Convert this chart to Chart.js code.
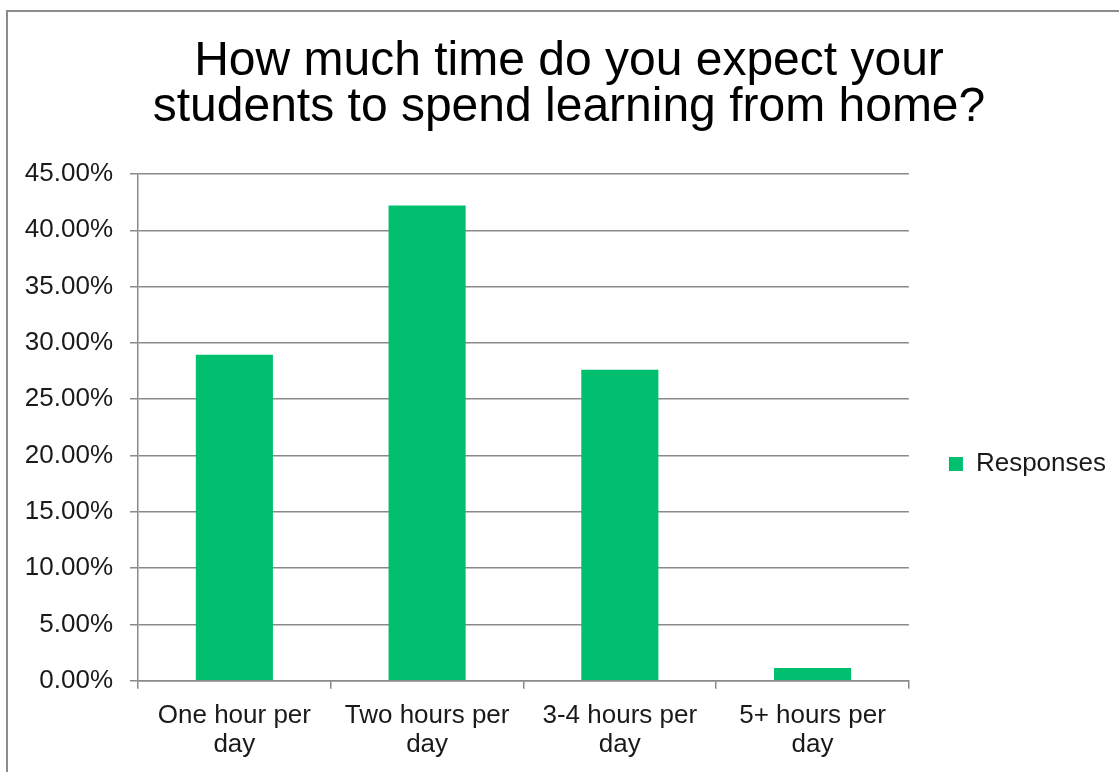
<!DOCTYPE html>
<html>
<head>
<meta charset="utf-8">
<title>How much time do you expect your students to spend learning from home?</title>
<script src="https://cdn.jsdelivr.net/npm/chart.js@4/dist/chart.umd.min.js"></script>
<style>
	html, body { margin: 0; padding: 0; background: #fff; overflow: hidden; }
	#frame { position: absolute; left: 6px; top: 10px; width: 2000px; height: 2000px; border: 2px solid #8c8c8c; }
	#chart { position: absolute; left: 0; top: 0; }
</style>
</head>
<body>
<div id="frame"></div>
<canvas id="chart" width="1119" height="772"></canvas>
<script>
	// chart data
	var titleLines = ['How much time do you expect your', 'students to spend learning from home?'];
	var categories = [['One hour per', 'day'], ['Two hours per', 'day'], ['3-4 hours per', 'day'], ['5+ hours per', 'day']];
	var responses = [28.94, 42.20, 27.62, 1.12];
	var seriesName = 'Responses';
	var yMax = 45;
	var yStep = 5;

	// colors
	var barGreen = '#00BF6F';
	var gridGrey = '#8a8a8a';
	var textDark = '#1a1a1a';
	var fontFamily = '"Liberation Sans", Arial, sans-serif';
	var labelSize = 26;

	var ctx = document.getElementById('chart');
	var chart = new Chart(ctx, {
		type: 'bar',
		data: {
			labels: categories,
			datasets: [{
				label: seriesName,
				data: responses,
				backgroundColor: barGreen,
				borderWidth: 0,
				barPercentage: 0.4,
				categoryPercentage: 1.0
			}]
		},
		options: {
			responsive: false,
			animation: false,
			devicePixelRatio: 1,
			layout: {
				padding: { left: 22, right: 3, top: 0, bottom: 0 }
			},
			plugins: {
				title: {
					display: true,
					text: titleLines,
					color: '#000',
					font: { family: fontFamily, size: 48, weight: 'normal', lineHeight: 0.958 },
					padding: { top: 39, bottom: 43 }
				},
				legend: {
					display: true,
					position: 'right',
					// empty legend title only pushes the entry down to the middle
					title: {
						display: true,
						text: '',
						font: { size: 10, lineHeight: 1.2 },
						padding: { top: 144, bottom: 0 }
					},
					labels: {
						boxWidth: 14,
						boxHeight: 14,
						padding: 40,
						color: textDark,
						font: { family: fontFamily, size: labelSize }
					}
				},
				tooltip: { enabled: false }
			},
			scales: {
				x: {
					grid: {
						display: true,
						drawOnChartArea: false,
						drawTicks: true,
						tickLength: 8,
						color: gridGrey,
						lineWidth: 1.5
					},
					border: { display: true, color: gridGrey, width: 1.5 },
					ticks: {
						color: textDark,
						padding: 12,
						maxRotation: 0,
						autoSkip: false,
						font: { family: fontFamily, size: labelSize, lineHeight: 1.14 }
					}
				},
				y: {
					min: 0,
					max: yMax,
					afterFit: function (scale) {
						scale.width = 116;
					},
					grid: {
						color: gridGrey,
						lineWidth: 1.5,
						drawTicks: true,
						tickLength: 8
					},
					border: { display: true, color: gridGrey, width: 1.5 },
					ticks: {
						stepSize: yStep,
						color: textDark,
						padding: 17,
						font: { family: fontFamily, size: labelSize },
						callback: function (v) {
							return v.toFixed(2) + '%';
						}
					}
				}
			}
		}
	});
</script>
</body>
</html>
